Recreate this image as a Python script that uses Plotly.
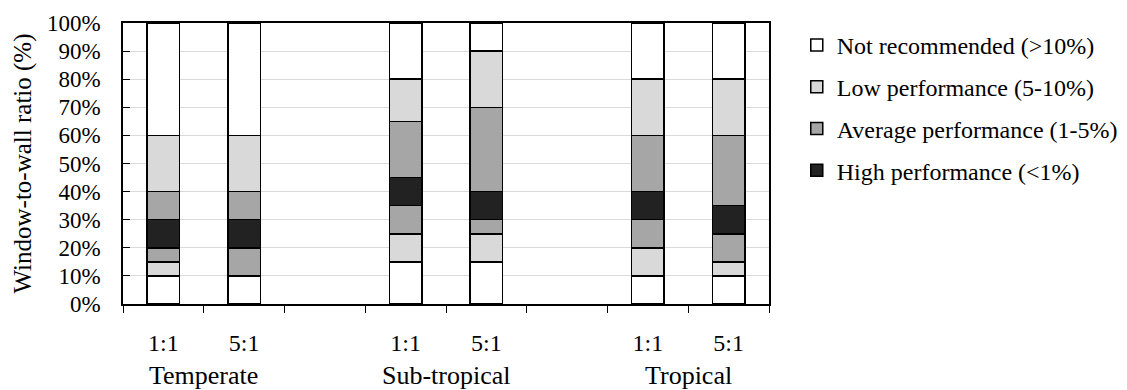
import plotly.graph_objects as go

categories = ["Temperate 1:1", "Temperate 5:1", "gap1", "Sub-tropical 1:1", "Sub-tropical 5:1", "gap2", "Tropical 1:1", "Tropical 5:1"]
tick_labels = ["1:1", "5:1", "", "1:1", "5:1", "", "1:1", "5:1"]
groups = ["Temperate", "Sub-tropical", "Tropical"]
group_positions = [0.5, 3.5, 6.5]

# segment heights (%) from bottom to top; gaps are empty
not_rec_low = [10, 10, None, 15, 15, None, 10, 10]
low_perf_low = [5, None, None, 10, 10, None, 10, 5]
avg_perf_low = [5, 10, None, 10, 5, None, 10, 10]
high_perf = [10, 10, None, 10, 10, None, 10, 10]
avg_perf_high = [10, 10, None, 20, 30, None, 20, 25]
low_perf_high = [20, 20, None, 15, 20, None, 20, 20]
not_rec_high = [40, 40, None, 20, 10, None, 20, 20]

names = {
    "nr": "Not recommended (>10%)",
    "low": "Low performance (5-10%)",
    "avg": "Average performance (1-5%)",
    "high": "High performance (<1%)",
}
colors = {"nr": "#ffffff", "low": "#d9d9d9", "avg": "#a6a6a6", "high": "#222222"}
ranks = {"nr": 1, "low": 2, "avg": 3, "high": 4}

layers = [
    ("nr", not_rec_low, False),
    ("low", low_perf_low, False),
    ("avg", avg_perf_low, False),
    ("high", high_perf, True),
    ("avg", avg_perf_high, True),
    ("low", low_perf_high, True),
    ("nr", not_rec_high, True),
]

fig = go.Figure()
for key, vals, show in layers:
    fig.add_trace(go.Bar(
        x=categories, y=vals, name=names[key],
        legendgroup=key, showlegend=show, legendrank=ranks[key],
        marker=dict(color=colors[key], line=dict(color="#000000", width=1.5)),
        width=0.4, hoverinfo="skip",
    ))

font_family = "Liberation Serif, Times New Roman, serif"

for g, p in zip(groups, group_positions):
    fig.add_annotation(x=p, xref="x", y=0, yref="paper", yshift=-71,
                       text=g, showarrow=False, yanchor="middle",
                       font=dict(family=font_family, size=26, color="#000"))

# page body has an 8px margin: figure is sized/placed to compensate
fig.update_layout(
    width=1119, height=382,
    barmode="stack",
    plot_bgcolor="#ffffff", paper_bgcolor="#ffffff",
    margin=dict(l=115, r=358, t=15, b=86, autoexpand=False),
    font=dict(family=font_family, size=24, color="#000"),
    legend=dict(x=1.043, y=1.0, xanchor="left", yanchor="top",
                traceorder="grouped", tracegroupgap=7.5,
                font=dict(family=font_family, size=24, color="#000"),
                itemwidth=30),
    xaxis=dict(
        type="category", categoryorder="array", categoryarray=categories,
        tickmode="array", tickvals=categories, ticktext=tick_labels,
        tickson="boundaries", ticks="outside", ticklen=7, tickcolor="#000",
        ticklabelstandoff=16, automargin=False,
        showline=True, linecolor="#000", linewidth=1.5, mirror=True,
        showgrid=False, range=[-0.5, 7.5],
        tickfont=dict(family=font_family, size=24, color="#000"),
    ),
    yaxis=dict(
        range=[0, 100], dtick=10, ticksuffix="%",
        ticks="inside", ticklen=7, tickcolor="#000",
        ticklabelstandoff=16, automargin=False,
        showline=True, linecolor="#000", linewidth=1.5, mirror=True,
        showgrid=True, gridcolor="#d9d9d9", gridwidth=1.2,
        zeroline=False,
        tickfont=dict(family=font_family, size=23, color="#000"),
        title=dict(text="Window-to-wall ratio (%)", standoff=8,
                   font=dict(family=font_family, size=25, color="#000")),
    ),
)

fig.write_html("out.html")
